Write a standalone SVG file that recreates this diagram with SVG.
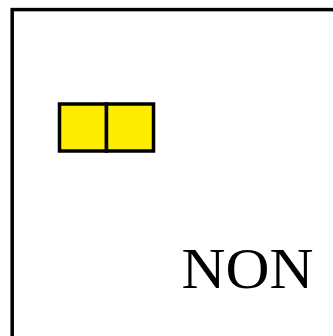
<svg xmlns="http://www.w3.org/2000/svg" width="333" height="336" viewBox="0 0 333 336">
<style>
.frame{fill:none;stroke:#000;stroke-width:3.5}
.cell{fill:#ffed00;stroke:#000;stroke-width:3.5}
.lbl{font-family:"Liberation Serif","Times New Roman",serif;font-size:57px;fill:#000}
</style>
<rect width="333" height="336" fill="#fff"/>
<g id="frame"><rect class="frame" x="12.2" y="9.6" width="340" height="350"/></g>
<g id="cell1"><rect class="cell" x="59.5" y="104" width="47" height="47"/></g>
<g id="cell2"><rect class="cell" x="106.5" y="104" width="47" height="47"/></g>
<g id="label"><text class="lbl" x="181.5" y="288.3" textLength="132" lengthAdjust="spacingAndGlyphs">NON</text></g>
<g id="connectors"></g>
</svg>
